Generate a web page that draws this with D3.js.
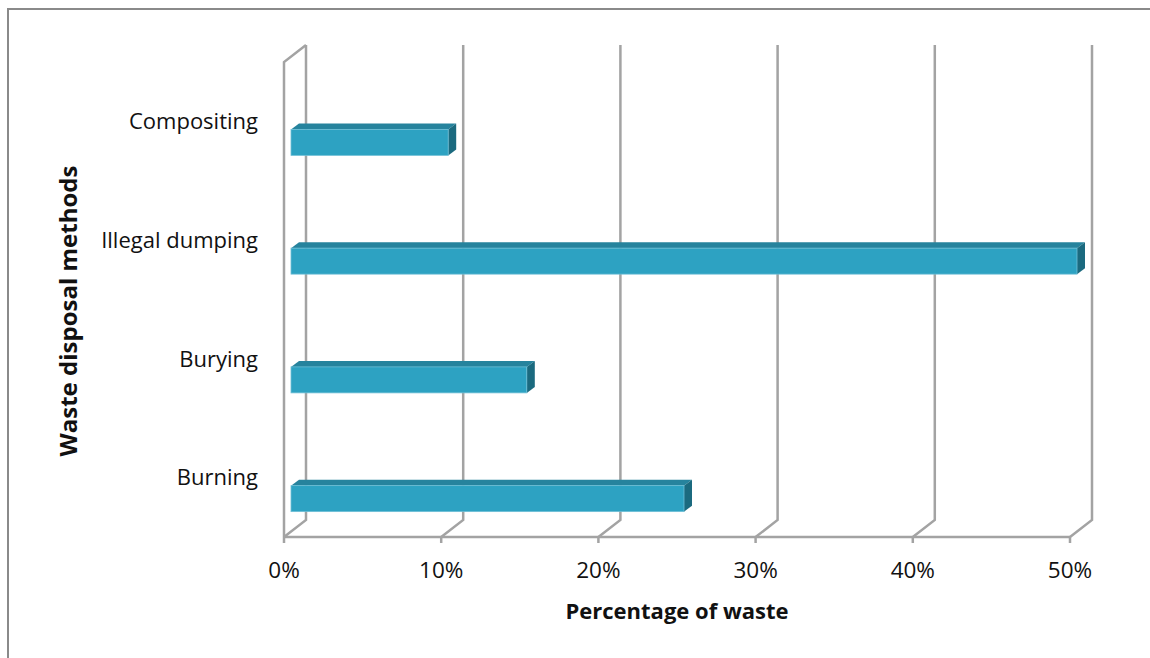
<!DOCTYPE html>
<html>
<head>
<meta charset="utf-8">
<script src="https://cdn.jsdelivr.net/npm/d3@7"></script>
<style>
  html, body { margin: 0; padding: 0; background: #fff; }
  svg { display: block; }
  text { font-family: "Open Sans", "Noto Sans", sans-serif; fill: #111; }
</style>
</head>
<body>
<svg id="chart" width="1150" height="658"></svg>
<script>
// ---- data ----
const categories = ["Compositing", "Illegal dumping", "Burying", "Burning"];
const values = [0.10, 0.50, 0.15, 0.25];
const tickValues = [0, 0.1, 0.2, 0.3, 0.4, 0.5];
const xTitle = "Percentage of waste";
const yTitle = "Waste disposal methods";

// ---- layout ----
const W = 1150, H = 658;
const svg = d3.select("#chart");

// chart border
svg.append("rect")
  .attr("x", 8).attr("y", 9).attr("width", W + 10).attr("height", H + 10)
  .attr("fill", "#fff").attr("stroke", "#8a8a8a").attr("stroke-width", 2);

// 3D oblique geometry
const depth = { dx: 22, dy: -17 };
const floorY = 537, topFrontY = 62;
const x = d3.scaleLinear().domain([0, 0.5]).range([284, 1070]);
const y = d3.scaleBand().domain(categories).range([topFrontY, floorY]);

const gridColor = "#a3a3a3";
const gw = 2.5;
const grid = svg.append("g").attr("fill", "none").attr("stroke", gridColor)
  .attr("stroke-width", gw).attr("stroke-linejoin", "miter");

// back gridlines + floor diagonals
tickValues.forEach(t => {
  const xf = x(t), xb = xf + depth.dx;
  grid.append("path")
    .attr("d", `M${xb},${topFrontY + depth.dy} L${xb},${floorY + depth.dy} L${xf},${floorY}`);
});
// left wall front edge + top diagonal
grid.append("path")
  .attr("d", `M${x(0) + depth.dx},${topFrontY + depth.dy} L${x(0)},${topFrontY} L${x(0)},${floorY}`);
// floor front edge
grid.append("path").attr("d", `M${x(0)},${floorY} L${x(0.5)},${floorY}`);
// tick marks
tickValues.forEach(t => {
  grid.append("path").attr("d", `M${x(t)},${floorY} L${x(t)},${floorY + 6}`);
});

// tick labels
svg.append("g").selectAll("text").data(tickValues).join("text")
  .attr("x", d => x(d)).attr("y", 578)
  .attr("text-anchor", "middle").attr("font-size", 22.5)
  .text(d => d3.format(".0%")(d));

// category labels
svg.append("g").selectAll("text").data(categories).join("text")
  .attr("x", 258).attr("y", d => y(d) + y.bandwidth() / 2)
  .attr("dy", "0.35em")
  .attr("text-anchor", "end").attr("font-size", 22)
  .text(d => d);

// bars (3D)
const barOff = 7;          // bar front face offset into depth
const bd = { dx: 8, dy: -6 }; // bar thickness in depth
const barH = 26;
const bars = svg.append("g");
categories.forEach((c, i) => {
  const cy = y(c) + y.bandwidth() / 2 + 21;
  const x0 = x(0) + barOff, x1 = x(values[i]) + barOff;
  const yt = cy - barH / 2, yb = cy + barH / 2;
  // top face
  bars.append("path")
    .attr("d", `M${x0},${yt} L${x0 + bd.dx},${yt + bd.dy} L${x1 + bd.dx},${yt + bd.dy} L${x1},${yt} Z`)
    .attr("fill", "#26839d");
  // side face
  bars.append("path")
    .attr("d", `M${x1},${yt} L${x1 + bd.dx},${yt + bd.dy} L${x1 + bd.dx},${yb + bd.dy} L${x1},${yb} Z`)
    .attr("fill", "#1b6a7f");
  // front face
  bars.append("rect")
    .attr("x", x0).attr("y", yt).attr("width", x1 - x0).attr("height", barH)
    .attr("fill", "#2da2c2").attr("stroke", "#6fbfd6").attr("stroke-width", 0.8);
});

// axis titles
svg.append("text")
  .attr("x", 677).attr("y", 619)
  .attr("text-anchor", "middle").attr("font-size", 22).attr("font-weight", "bold")
  .text(xTitle);
svg.append("text")
  .attr("transform", "translate(77,311) rotate(-90)")
  .attr("text-anchor", "middle").attr("font-size", 24).attr("font-weight", "bold")
  .text(yTitle);
</script>
</body>
</html>
